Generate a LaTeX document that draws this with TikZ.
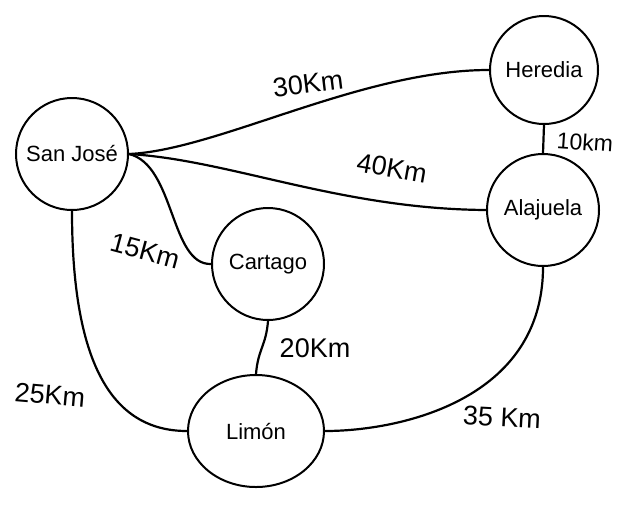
\documentclass[tikz,border=0pt]{standalone}
\usepackage{fontspec}
\setmainfont{Liberation Sans}
\usetikzlibrary{shapes.geometric}
\begin{document}
\begin{tikzpicture}[x=1pt,y=-1pt,
  city/.style={draw,circle,line width=2pt,inner sep=0pt,font=\fontsize{22}{26}\selectfont},
  road/.style={line width=2.2pt},
  dist/.style={font=\fontsize{27}{31}\selectfont,inner sep=0pt}]
\useasboundingbox (0,0) rectangle (628,507);
\fill[white] (0,0) rectangle (628,507);
\node[city,minimum size=112pt] (sj) at (72,154) {San José};
\node[city,minimum size=108pt] (her) at (544,70) {Heredia};
\node[city,minimum size=112pt] (ala) at (543,210) {Alajuela};
\node[city,minimum size=112pt] (cart) at (268,264) {Cartago};
\node[city,ellipse,minimum width=136pt,minimum height=112pt] (lim) at (256,431) {Limón};
\draw[road] (sj.east) .. controls (218,150) and (361,70) .. (her.west);
\draw[road] (sj.east) .. controls (230,160) and (340,209) .. (ala.west);
\draw[road] (sj.east) .. controls (175,165) and (170,265) .. (cart.west);
\draw[road] (sj.south) .. controls (72,360) and (110,431) .. (lim.west);
\draw[road] (cart.south) .. controls +(-2,25) and +(2,-25) .. (lim.north);
\draw[road] (ala.south) .. controls (543,400) and (400,431) .. (lim.east);
\draw[road] (her.south) -- (ala.north);
\node[dist,rotate=7] (l30) at (308,84) {30Km};
\node[dist,rotate=-10] (l40) at (392,168) {40Km};
\node[dist,rotate=-15] (l15) at (145,251) {15Km};
\node[dist] (l20) at (315,348) {20Km};
\node[dist,rotate=-4,font=\fontsize{23}{27}\selectfont] (l10) at (585,142) {10km};
\node[dist,rotate=-5] (l25) at (50,395) {25Km};
\node[dist,rotate=-3] (l35) at (502,417) {35 Km};
\end{tikzpicture}
\end{document}
